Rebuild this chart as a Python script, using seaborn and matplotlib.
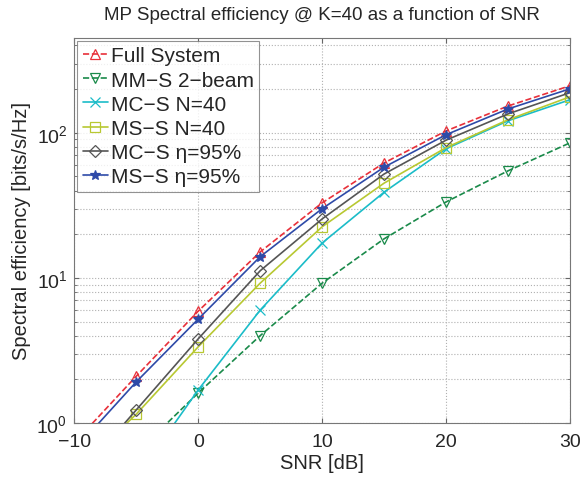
import numpy as np
import pandas as pd
import matplotlib
matplotlib.use("Agg")
import matplotlib.pyplot as plt
import seaborn as sns
from matplotlib.ticker import LogLocator, NullFormatter

snr = [-10, -5, 0, 5, 10, 15, 20, 25, 30]
full_system = [0.73, 2.1, 5.9, 15.1, 32.9, 62, 103, 153, 211]
mm_s_2beam = [np.nan, 0.62, 1.61, 4.0, 9.2, 18.6, 33.4, 54.7, 85.3]
mc_s_n40 = [np.nan, 0.42, 1.69, 6.0, 17.4, 39, 77.6, 121, 169]
ms_s_n40 = [0.45, 1.15, 3.35, 9.2, 22.5, 45, 79, 123, 177]
mc_s_eta95 = [0.4, 1.23, 3.8, 11.2, 25.5, 52, 89, 135, 189]
ms_s_eta95 = [0.65, 1.92, 5.2, 14, 30, 58, 97, 146, 201]

labels = ["Full System", "MM\u2212S 2\u2212beam", "MC\u2212S N=40",
          "MS\u2212S N=40", "MC\u2212S \u03b7=95%", "MS\u2212S \u03b7=95%"]

sns.set_style("ticks")
plt.rcParams['font.family'] = ['Liberation Sans', 'DejaVu Sans']
plt.rcParams['mathtext.fontset'] = 'custom'
plt.rcParams['mathtext.rm'] = 'Liberation Sans'

fig = plt.figure(figsize=(5.8, 4.81), dpi=100)
ax = fig.add_axes([0.128, 0.1185, 0.855, 0.8005])

series = [
    (full_system, labels[0], '#e8303a', '^', '--', 'none'),
    (mm_s_2beam, labels[1], '#1a8a4a', 'v', '--', 'none'),
    (mc_s_n40, labels[2], '#1bbcc8', 'x', '-', None),
    (ms_s_n40, labels[3], '#b8c832', 's', '-', 'none'),
    (mc_s_eta95, labels[4], '#555555', 'D', '-', 'none'),
    (ms_s_eta95, labels[5], '#2e4aa8', '*', '-', None),
]

for vals, lab, col, mk, ls, mfc in series:
    df = pd.DataFrame({"snr": snr, "se": vals}).dropna()
    kw = dict(markerfacecolor=mfc) if mfc else {}
    sns.lineplot(data=df, x="snr", y="se", ax=ax, color=col, marker=mk,
                 linestyle=ls, linewidth=1.2, markersize=7.5 if mk != 'D' else 6.5,
                 markeredgecolor=col, markeredgewidth=0.9, label=lab, **kw)

ax.set_yscale('log')
ax.set_xlim(-10, 30)
ax.set_ylim(1, 450)
ax.set_xticks([-10, 0, 10, 20, 30])
ax.set_xticklabels(["\u221210", "0", "10", "20", "30"])
ax.yaxis.set_major_locator(LogLocator(base=10, numticks=10))
ax.yaxis.set_minor_locator(LogLocator(base=10, subs=np.arange(2, 10), numticks=20))
ax.yaxis.set_minor_formatter(NullFormatter())
ax.grid(True, which='major', axis='both', linestyle=':', color='#b0b0b0', linewidth=0.8)
ax.grid(True, which='minor', axis='y', linestyle=':', color='#b0b0b0', linewidth=0.8)
ax.tick_params(direction='in', which='both', top=True, right=True, labelsize=14, color='#666666')
ax.tick_params(axis='x', pad=7)
ax.tick_params(axis='y', pad=5)
for s in ax.spines.values():
    s.set_color('#777777')

ax.set_xlabel("SNR [dB]", fontsize=14.5, labelpad=2)
ax.set_ylabel("Spectral efficiency [bits/s/Hz]", fontsize=14.5, labelpad=4)
ax.set_title("MP Spectral efficiency @ K=40 as a function of SNR", fontsize=13.5, pad=14)

leg = ax.legend(loc='upper left', fontsize=15, frameon=True, fancybox=False,
                handlelength=1.2, handletextpad=0.15, labelspacing=0.25,
                borderpad=0.25, borderaxespad=0.15)
leg.get_frame().set_edgecolor('#777777')
leg.get_frame().set_linewidth(0.8)

fig.savefig("out.png", dpi=100)
